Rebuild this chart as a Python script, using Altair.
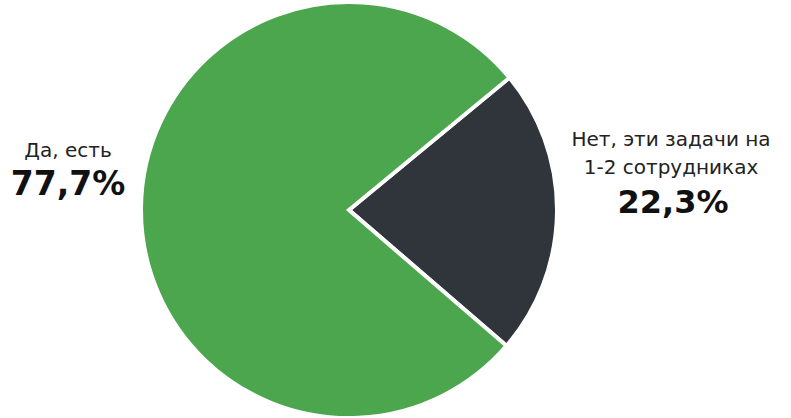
import math
import altair as alt
import pandas as pd

categories = ["Нет, эти задачи на\n1-2 сотрудниках", "Да, есть"]
values = [22.3, 77.7]
value_labels = ["22,3%", "77,7%"]
colors = ["#30343b", "#4ba64d"]

df = pd.DataFrame({"category": categories, "value": values,
                   "order": [0, 1], "pct": value_labels})

start = math.radians(50.5)

base = alt.Chart(df)

pie = base.mark_arc(stroke="white", strokeWidth=4, strokeJoin="miter").encode(
    theta=alt.Theta("value:Q", stack=True,
                    scale=alt.Scale(range=[start, start + 2 * math.pi])),
    color=alt.Color("category:N", scale=alt.Scale(domain=categories, range=colors),
                    legend=None),
    order=alt.Order("order:Q"),
    x=alt.value(349), y=alt.value(210), radius=alt.value(208),
)

font = "DejaVu Sans"

left_name = alt.Chart(df[df.order == 1]).mark_text(
    font=font, fontSize=20, color="#222222", align="center", baseline="alphabetic"
).encode(text="category:N", x=alt.value(68), y=alt.value(157))

left_val = alt.Chart(df[df.order == 1]).mark_text(
    font=font, fontSize=33, fontWeight="bold", color="#111111", align="center",
    baseline="alphabetic"
).encode(text="pct:N", x=alt.value(68), y=alt.value(195))

right_name = alt.Chart(df[df.order == 0]).mark_text(
    font=font, fontSize=20, color="#222222", align="center", baseline="alphabetic",
    lineBreak="\n", lineHeight=28
).encode(text="category:N", x=alt.value(671), y=alt.value(146))

right_val = alt.Chart(df[df.order == 0]).mark_text(
    font=font, fontSize=32, fontWeight="bold", color="#111111", align="center",
    baseline="alphabetic"
).encode(text="pct:N", x=alt.value(673), y=alt.value(213))

chart = alt.layer(pie, left_name, left_val, right_name, right_val).properties(
    width=791, height=418, padding=0, autosize=alt.AutoSizeParams(type="none"),
    background="white"
).configure_view(stroke=None)

chart.save("out.html", embed_options={"renderer": "svg", "actions": False})
